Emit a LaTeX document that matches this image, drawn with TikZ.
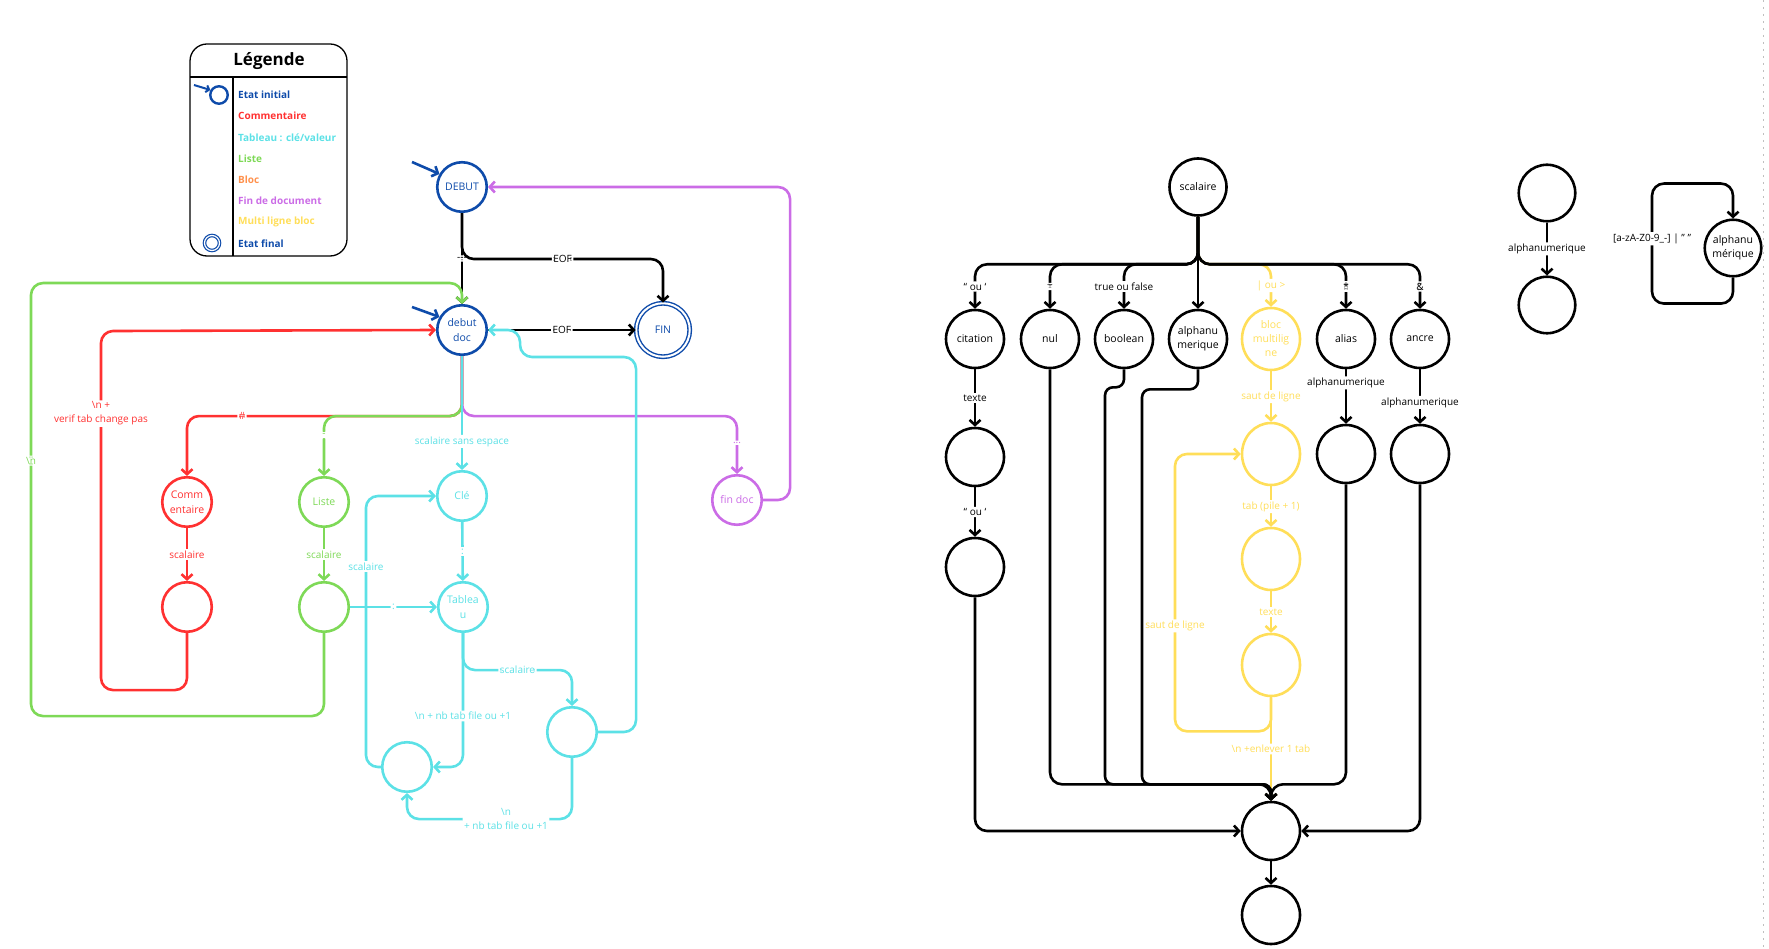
\documentclass[tikz,border=0pt]{standalone}
\usepackage{fontspec}
\setmainfont{Open Sans}
\usetikzlibrary{arrows.meta,shapes.geometric}
\definecolor{bleu}{HTML}{0E4BAA}
\definecolor{rouge}{HTML}{FF3131}
\definecolor{cyan2}{HTML}{5CE1E6}
\definecolor{vert}{HTML}{7ED957}
\definecolor{orange2}{HTML}{FF914D}
\definecolor{violet2}{HTML}{CB6CE6}
\definecolor{jaune}{HTML}{FFDE59}

\begin{document}
\begin{tikzpicture}[x=1pt,y=-1pt,
    etat/.style={circle,draw,line width=2.6pt,minimum size=49.5pt,inner sep=0pt,align=center,font=\fontsize{10.5}{14.5}\selectfont},
    grand/.style={etat,minimum size=58pt},
    ovale/.style={ellipse,draw,line width=2.6pt,minimum width=58pt,minimum height=62pt,inner sep=0pt,align=center,font=\fontsize{10.5}{14}\selectfont},
    fl/.style={line width=2.6pt,rounded corners=12pt,-{Straight Barb[length=5pt,width=11pt]}},
    lbl/.style={fill=white,inner sep=1.5pt,align=center,font=\fontsize{10}{14}\selectfont}]
    \useasboundingbox (0,0) rectangle (1769,949);
    \draw[black!25,line width=0.7pt,dash pattern=on 2pt off 5pt] (1763,0) -- (1763,949);
    %Legende
    \draw[line width=1.3pt,rounded corners=17pt] (190,44) rectangle (347,256);
    \draw[line width=1.3pt] (190,77) -- (347,77) (233,77) -- (233,256);
    \node[font=\bfseries\fontsize{17}{20}\selectfont] (legende) at (269,61) {Légende};
    \foreach \t/\c [count=\i from 0] in {Etat initial/bleu,Commentaire/rouge,{Tableau : clé/valeur}/cyan2,Liste/vert,Bloc/orange2,Fin de document/violet2,Multi ligne bloc/jaune,Etat final/bleu}
      \node[anchor=west,text=\c,inner sep=0pt,font=\bfseries\fontsize{10}{12}\selectfont] (leg\i) at (238,95+21.2*\i) {\t};
    \node[circle,draw=bleu,line width=2.4pt,minimum size=17.5pt,inner sep=0pt] (legInit) at (219,95) {};
    \node[circle,draw=bleu,double,double distance=1.2pt,line width=1.2pt,minimum size=15pt,inner sep=0pt] (legFin) at (212,243) {};
    \coordinate (legInitIn) at (194,85);
    \draw[bleu,line width=2pt,-{Straight Barb[length=3pt,width=7pt]}] (legInitIn) -- (legInit.150);
    %Document
    \node[etat,bleu] (debut) at (462,187) {DEBUT};
    \node[etat,bleu] (dd) at (462,330) {debut\\doc};
    \node[etat,bleu,double,double distance=2pt,line width=1.4pt,minimum size=53.5pt] (fin) at (663,330) {FIN};
    \node[etat,rouge] (comm) at (187,502) {Comm\\entaire};
    \node[etat,rouge] (commB) at (187,607) {};
    \node[etat,vert] (liste) at (324,502) {Liste};
    \node[etat,vert] (listeB) at (324,607) {};
    \node[etat,cyan2] (cle) at (462,496) {Clé};
    \node[etat,cyan2] (tab) at (463,607) {Tablea\\u};
    \node[etat,cyan2] (tabL) at (407,767) {};
    \node[etat,cyan2] (tabR) at (572,732) {};
    \node[etat,violet2] (findoc) at (737,500) {fin doc};
    \coordinate (debutIn) at (412,162);
    \coordinate (ddIn) at (412,307);
    \draw[fl,bleu] (debutIn) -- (debut.150);
    \draw[fl,bleu] (ddIn) -- (dd.150);
    \draw[fl] (debut) -- node[lbl]{{-}{-}{-}} (dd);
    \draw[fl] (debut.south) -- ++(0,46) -| node[lbl,pos=0.25]{EOF} (fin.north);
    \draw[fl] (dd) -- node[lbl]{EOF} (fin);
    \draw[fl,rouge] (dd.south) -- ++(0,60) -| node[lbl,pos=0.4]{\#} (comm.north);
    \draw[fl,rouge] (comm) -- node[lbl]{scalaire} (commB);
    \draw[fl,rouge] (commB.south) -- ++(0,57) -- ++(-86,0) -- node[lbl,pos=0.77]{\textbackslash n +\\verif tab change pas} ++(0,-359) -- (dd.west);
    \draw[fl,vert] (dd.south) -- ++(0,60) -| node[lbl,pos=0.66]{-} (liste.north);
    \draw[fl,vert] (liste) -- node[lbl]{scalaire} (listeB);
    \draw[fl,vert] (listeB.south) -- ++(0,83) -- ++(-293,0) -- node[lbl,pos=0.59]{\textbackslash n} ++(0,-433) -| (dd.north);
    \draw[fl,violet2] (dd.south) -- ++(0,60) -| node[lbl,pos=0.73]{...} (findoc.north);
    \draw[fl,violet2] (findoc.east) -- ++(27,0) |- (debut.east);
    \draw[fl,cyan2] (dd) -- node[lbl,pos=0.75]{scalaire sans espace} (cle);
    \draw[fl,cyan2] (cle) -- node[lbl]{:} (tab);
    \draw[fl,cyan2] (tabL.west) -- ++(-15,0) |- node[lbl,pos=0.37]{scalaire} (cle.west);
    \draw[fl,cyan2] (listeB) -- node[lbl]{:} (tab);
    \draw[fl,cyan2] (tab.south) |- node[lbl,pos=0.31]{\textbackslash n + nb tab file ou +1} (tabL.east);
    \draw[fl,cyan2] (tab.south) -- ++(0,37) -| node[lbl,pos=0.25]{scalaire} (tabR.north);
    \draw[fl,cyan2] (tabR.south) -- ++(0,61) -| node[lbl,pos=0.2]{\textbackslash n\\+ nb tab file ou +1} (tabL.south);
    \draw[fl,cyan2] (tabR.east) -- ++(38,0) -- ++(0,-375) -- ++(-116,0) -- ++(0,-27) -- (dd.east);
    %Scalaire
    \node[grand,minimum size=57pt] (scal) at (1198,187) {scalaire};
    \foreach \n/\x/\t in {cit/975/citation,nul/1050/nul,bool/1124/boolean,alnum/1198/{alphanu\\merique},alias/1346/alias,ancre/1420/ancre}
      \node[grand] (\n) at (\x,339) {\t};
    \node[ovale,jaune] (bloc) at (1271,339) {bloc\\multilig\\ne};
    \node[grand] (citA) at (975,457) {};
    \node[grand] (citB) at (975,567) {};
    \node[ovale,jaune] (y1) at (1271,454) {};
    \node[ovale,jaune] (y2) at (1271,559) {};
    \node[ovale,jaune] (y3) at (1271,665) {};
    \node[grand] (aliasA) at (1346,454) {};
    \node[grand] (ancreA) at (1420,454) {};
    \node[grand] (finA) at (1271,831) {};
    \node[grand] (finB) at (1271,915) {};
    \draw[fl,jaune] (scal.south) -- ++(0,47.5) -| node[lbl,pos=0.75]{| ou >} (bloc.north);
    \foreach \n/\t in {cit/{“ ou ‘},nul/\textasciitilde,bool/true ou false,alias/*,ancre/\&}
      \draw[fl] (scal.south) -- ++(0,47.5) -| node[lbl,pos=0.75]{\t} (\n.north);
    \draw[fl] (scal) -- (alnum);
    \draw[fl,jaune] (bloc) -- node[lbl]{saut de ligne} (y1);
    \draw[fl,jaune] (y1) -- node[lbl]{tab (pile + 1)} (y2);
    \draw[fl,jaune] (y2) -- node[lbl]{texte} (y3);
    \draw[fl,jaune] (y3.south) -- ++(0,34) -- ++(-96,0) |- node[lbl,pos=0.19]{saut de ligne} (y1.west);
    \draw[fl,jaune] (y3) -- node[lbl]{\textbackslash n +enlever 1 tab} (finA);
    \draw[fl] (cit) -- node[lbl]{texte} (citA);
    \draw[fl] (citA) -- node[lbl]{“ ou ‘} (citB);
    \draw[fl] (citB.south) |- (finA.west);
    \draw[fl] (nul.south) -- ++(0,415) -| (finA.north);
    \draw[fl,rounded corners=8pt] (bool.south) -- ++(0,18) -| ++(-19,397) -| (finA.north);
    \draw[fl,rounded corners=8pt] (alnum.south) -- ++(0,20) -| ++(-56,395) -| (finA.north);
    \draw[fl] (alias) -- node[lbl,pos=0.25]{alphanumerique} (aliasA);
    \draw[fl] (aliasA.south) -- ++(0,300) -| (finA.north);
    \draw[fl] (ancre) -- node[lbl,pos=0.61]{alphanumerique} (ancreA);
    \draw[fl] (ancreA.south) |- (finA.east);
    \draw[fl] (finA) -- (finB);
    %Alphanumerique
    \node[grand,minimum size=56.5pt] (pa) at (1547,193) {};
    \node[grand,minimum size=56.5pt] (pb) at (1547,305) {};
    \draw[fl] (pa) -- node[lbl]{alphanumerique} (pb);
    \node[grand,minimum size=56.5pt] (anum) at (1733,248) {alphanu\\mérique};
    \draw[fl] (anum.south) -- ++(0,26) -| node[lbl,pos=0.77]{[a-zA-Z0-9\_-] | " "} ++(-81,-120) -| (anum.north);
  \end{tikzpicture}
\end{document}
